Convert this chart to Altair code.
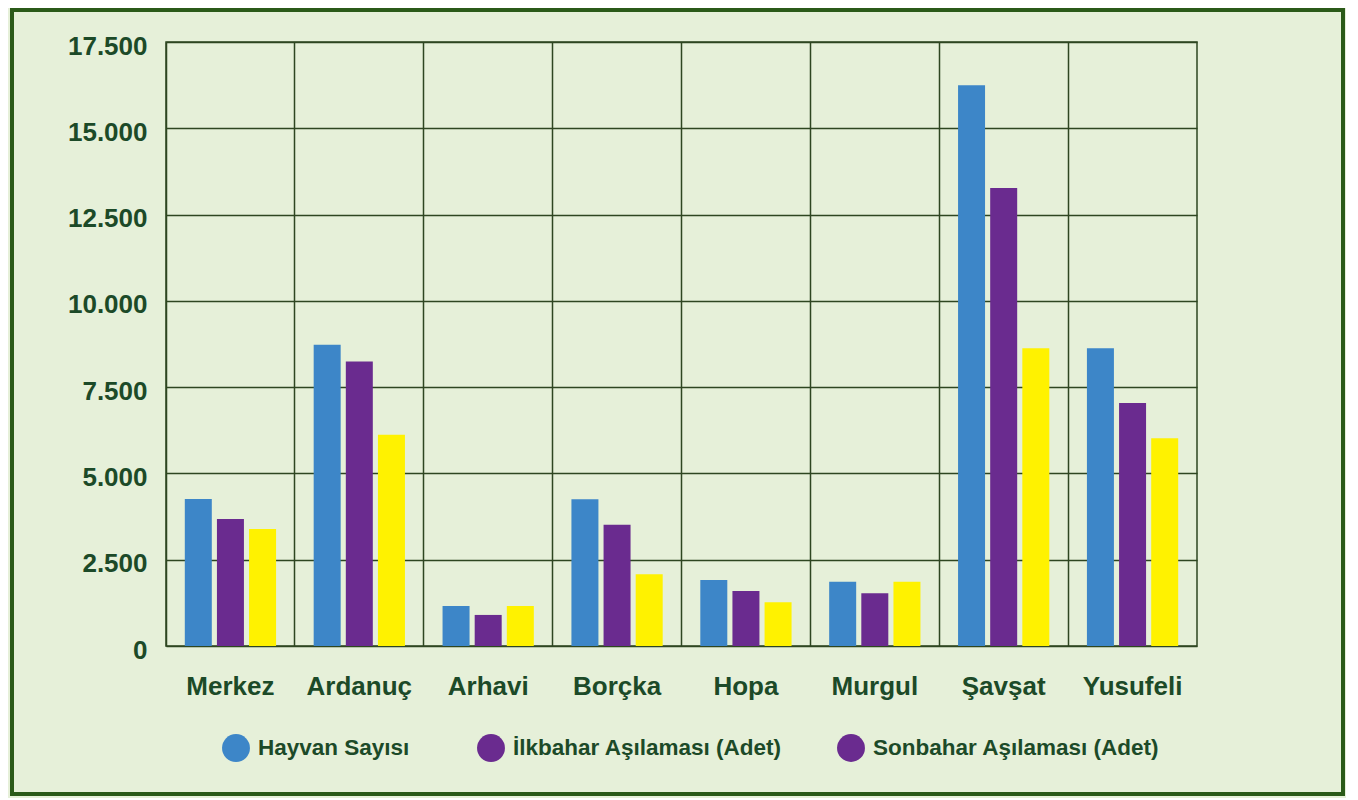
import altair as alt
import pandas as pd

districts = ["Merkez", "Ardanuç", "Arhavi", "Borçka", "Hopa", "Murgul", "Şavşat", "Yusufeli"]
series = ["Hayvan Sayısı", "İlkbahar Aşılaması (Adet)", "Sonbahar Aşılaması (Adet)"]
hayvan = [4260, 8730, 1160, 4250, 1910, 1860, 16250, 8630]
ilkbahar = [3680, 8240, 900, 3510, 1595, 1530, 13270, 7040]
sonbahar = [3390, 6120, 1160, 2080, 1265, 1860, 8630, 6020]
y_ticks = [0, 2500, 5000, 7500, 10000, 12500, 15000, 17500]

bar_colors = ["#3d86c8", "#6a2b8f", "#fff200"]
legend_colors = ["#3d86c8", "#6a2b8f", "#6a2b8f"]

rows = []
for i, d in enumerate(districts):
    for s, vals in zip(series, [hayvan, ilkbahar, sonbahar]):
        rows.append({"district": d, "series": s, "value": vals[i]})
df = pd.DataFrame(rows)

TEXT = "#1c4a28"
GRID = "#2e4621"
FONT = "Liberation Sans"

x_enc = alt.X("district:N", sort=districts,
              scale=alt.Scale(paddingInner=0, paddingOuter=0),
              axis=alt.Axis(title=None, grid=True, bandPosition=0, ticks=False, domain=False,
                            labelAngle=0, labelFontSize=26, labelFontWeight="bold",
                            labelColor=TEXT, labelFont=FONT, labelPadding=27,
                            gridColor=GRID, gridWidth=1.5, gridOpacity=1))
y_enc = alt.Y("value:Q",
              scale=alt.Scale(domain=[0, 17500], nice=False),
              axis=alt.Axis(title=None, values=y_ticks, ticks=False, domain=False,
                            labelExpr="replace(format(datum.value, ','), ',', '.')",
                            labelFontSize=26, labelFontWeight="bold", labelColor=TEXT,
                            labelFont=FONT, labelPadding=19, labelOffset=4,
                            gridColor=GRID, gridWidth=1.5, gridOpacity=1))


def make_legend(values, x):
    return alt.Legend(
        title=None, orient="none", direction="horizontal",
        legendX=x, legendY=692, values=values, symbolType="circle",
        symbolSize=780, symbolStrokeWidth=0, symbolOpacity=1,
        labelFontSize=22.5, labelFontWeight="bold",
        labelColor=TEXT, labelFont=FONT, labelOffset=8,
        columnPadding=67, labelLimit=400,
    )


bars = alt.Chart(df).mark_bar().encode(
    x=x_enc,
    xOffset=alt.XOffset("series:N", sort=series,
                        scale=alt.Scale(paddingInner=0.16, paddingOuter=0.585)),
    y=y_enc,
    color=alt.Color("series:N", sort=series,
                    scale=alt.Scale(domain=series, range=bar_colors),
                    legend=make_legend(series[:2], 56)),
)

legend_layer = alt.Chart(df).mark_point(filled=True, opacity=0).encode(
    x=alt.X("district:N", sort=districts),
    y=alt.Y("value:Q"),
    color=alt.Color("series:N", sort=series,
                    scale=alt.Scale(domain=series, range=legend_colors),
                    legend=make_legend(series[2:], 671)),
)

frame = alt.Chart(pd.DataFrame({"k": [0]})).mark_rect(
    fill="transparent", stroke="#2b5a19", strokeWidth=4
).encode(
    x=alt.value(-154), x2=alt.value(1177),
    y=alt.value(-32), y2=alt.value(752),
)

chart = alt.layer(bars, legend_layer, frame).resolve_scale(
    color="independent"
).properties(
    width=1031, height=604,
    background="#e6f0d9",
    padding={"left": 158, "top": 34, "right": 149, "bottom": 152},
    autosize=alt.AutoSizeParams(type="none"),
).configure_view(
    stroke=GRID, strokeWidth=1.5
)

chart.save("out.html", embed_options={"renderer": "svg", "actions": False})
